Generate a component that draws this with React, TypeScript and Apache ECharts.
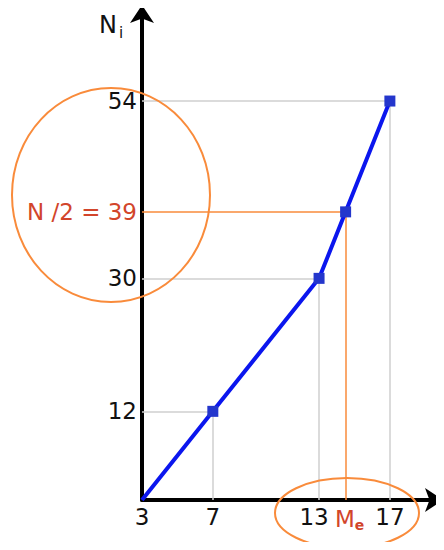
import React, { useEffect, useRef } from "react";
import * as echarts from "echarts";

// Cumulative frequency polygon: upper class bounds and cumulative counts
const bounds = [3, 7, 13, 17];
const cumulative = [0, 12, 30, 54];
const halfN = 39;
const median = 14.5;

const xTicks = [3, 7, 13, median, 17];
const yTicks = [12, 30, halfN, 54];

const BLUE = "#0b16ee";
const MARK = "#2436cc";
const ORANGE = "#f98b3b";
const RED = "#d2452b";
const GUIDE = "#cfcfcf";
const FONT = "DejaVu Sans";
const SIZE = 23;

const txt = (color: string, extra: any = {}) => ({
  color,
  fontFamily: FONT,
  fontSize: SIZE,
  ...extra,
});

export default function App() {
  const ref = useRef<HTMLDivElement>(null);

  useEffect(() => {
    if (!ref.current) return;
    const chart = echarts.init(ref.current, undefined, { renderer: "svg" });

    const points: any[] = bounds.map((b, i) => [b, cumulative[i]]);
    // the median point sits on the segment between 13 and 17
    points.splice(3, 0, [median, halfN]);
    const seriesData = points.map((p, i) => ({
      value: p,
      symbol: i === 0 ? "none" : "rect",
    }));

    const grayLines: any[] = [];
    bounds.slice(1).forEach((b, i) => {
      const y = cumulative[i + 1];
      grayLines.push([{ coord: [bounds[0], y] }, { coord: [b, y] }]);
      grayLines.push([{ coord: [b, y] }, { coord: [b, 0] }]);
    });
    const medianLines: any[] = [
      [{ coord: [bounds[0], halfN] }, { coord: [median, halfN] }],
      [{ coord: [median, halfN] }, { coord: [median, 0] }],
    ];

    chart.setOption({
      animation: false,
      backgroundColor: "#ffffff",
      grid: { left: 142, right: 1, top: 5, bottom: 50 },
      xAxis: {
        type: "value",
        min: 3,
        max: 20,
        splitLine: { show: false },
        axisTick: { show: false },
        axisLine: {
          onZero: false,
          symbol: ["none", "arrow"],
          symbolSize: [18, 18],
          lineStyle: { color: "#000", width: 4 },
        },
        axisLabel: {
          customValues: xTicks,
          margin: 5,
          formatter: (v: number) => {
            if (Math.abs(v - median) < 1e-6) return "{m|M}{e|e}";
            if (v === 13) return "{l|13}";
            return "{d|" + v + "}";
          },
          rich: {
            d: txt("#111"),
            l: txt("#111", { padding: [0, 10, 0, 0] }),
            m: txt(RED, { padding: [0, 0, 0, 8] }),
            e: txt(RED, {
              fontSize: 14,
              fontWeight: "bold",
              padding: [13, 0, 0, 0],
            }),
          },
        },
      },
      yAxis: {
        type: "value",
        min: 0,
        max: 67,
        splitLine: { show: false },
        axisTick: { show: false },
        axisLine: {
          onZero: false,
          symbol: ["none", "arrow"],
          symbolSize: [18, 18],
          lineStyle: { color: "#000", width: 4 },
        },
        axisLabel: {
          customValues: yTicks,
          margin: 5,
          formatter: (v: number) =>
            v === halfN ? "{r|N /2 = " + v + "}" : "{d|" + v + "}",
          rich: {
            d: txt("#111"),
            r: txt(RED),
          },
        },
      },
      graphic: [
        {
          type: "text",
          left: 99,
          top: 13,
          z: 10,
          style: {
            text: "{n|N}{i|i}",
            rich: {
              n: { fontFamily: FONT, fontSize: 24, fill: "#111" },
              i: {
                fontFamily: FONT,
                fontSize: 15,
                fill: "#111",
                padding: [16, 0, 0, 2],
              },
            },
          },
        },
        {
          type: "ellipse",
          z: 10,
          silent: true,
          shape: { cx: 111, cy: 195, rx: 99, ry: 107 },
          style: { fill: "none", stroke: ORANGE, lineWidth: 2 },
        },
        {
          type: "ellipse",
          z: 10,
          silent: true,
          shape: { cx: 347, cy: 513, rx: 72, ry: 35 },
          style: { fill: "none", stroke: ORANGE, lineWidth: 2 },
        },
      ],
      series: [
        {
          type: "line",
          data: [],
          z: 1,
          markLine: {
            silent: true,
            symbol: ["none", "none"],
            label: { show: false },
            lineStyle: { color: GUIDE, width: 1.5, type: "solid" },
            data: grayLines,
          },
        },
        {
          type: "line",
          data: [],
          z: 1,
          markLine: {
            silent: true,
            symbol: ["none", "none"],
            label: { show: false },
            lineStyle: { color: ORANGE, width: 1.5, type: "solid" },
            data: medianLines,
          },
        },
        {
          type: "line",
          z: 5,
          data: seriesData,
          symbolSize: 11,
          lineStyle: { color: BLUE, width: 4 },
          itemStyle: { color: MARK },
        },
      ],
    });

    return () => chart.dispose();
  }, []);

  return <div ref={ref} style={{ width: 444, height: 550, margin: -8 }} />;
}
